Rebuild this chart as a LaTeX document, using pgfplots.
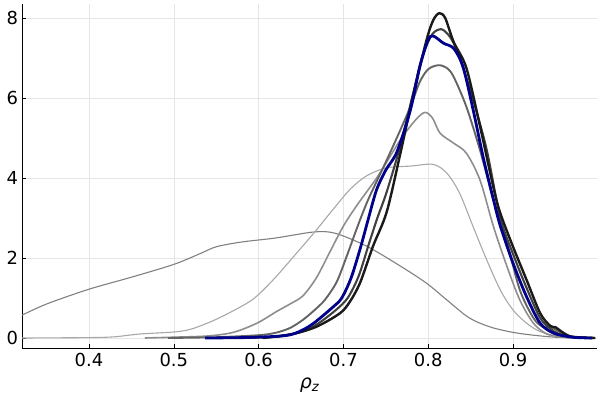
\documentclass[border=0pt]{standalone}
\usepackage{pgfplots}
\pgfplotsset{compat=1.18}
\usepackage{fontspec}
\setmainfont{DejaVu Sans}
\definecolor{cA}{HTML}{808080}
\definecolor{cB}{HTML}{A8A8A8}
\definecolor{cC}{HTML}{8E8E8E}
\definecolor{cD}{HTML}{646464}
\definecolor{cE}{HTML}{404040}
\definecolor{cF}{HTML}{1A1A1A}
\definecolor{cBlue}{HTML}{00008B}
\begin{document}
\begin{tikzpicture}
\useasboundingbox (0,0) rectangle (600bp,400bp);
\begin{axis}[
  at={(22bp,52bp)}, anchor=south west,
  scale only axis, width=575bp, height=344bp,
  xmin=0.321, xmax=0.999, ymin=-0.25, ymax=8.35,
  axis lines*=left,
  axis line style={black, line width=1bp},
  xtick={0.4,0.5,0.6,0.7,0.8,0.9},
  ytick={0,2,4,6,8},
  xticklabels={0.4,0.5,0.6,0.7,0.8,0.9},
  yticklabels={0,2,4,6,8},
  grid=major,
  major grid style={black!10, line width=0.5bp},
  tick style={black, line width=0.6bp},
  major tick length=4bp, tick align=inside,
  /pgf/number format/assume math mode=true,
  ticklabel style={font=\fontsize{18}{18}\selectfont},
  xticklabel style={yshift=-2bp},
  yticklabel style={xshift=-0.5bp},
  xlabel={\textit{ρ\textsubscript{z}}},
  xlabel style={font=\fontsize{19}{19}\selectfont, yshift=-4bp},
  every axis plot/.append style={smooth, tension=0.5, no marks},
  clip=true,
]
% A
\addplot[color=cA, line width=1.1bp] coordinates {
(0.321,0.57) (0.35,0.85) (0.40,1.22) (0.45,1.52) (0.50,1.84) (0.53,2.1) (0.55,2.28) (0.58,2.40) (0.62,2.50) (0.665,2.65) (0.69,2.62) (0.727,2.3) (0.767,1.8) (0.798,1.37) (0.822,0.95) (0.845,0.55) (0.86,0.38) (0.877,0.25) (0.90,0.14) (0.924,0.07) (0.95,0.02) (0.975,0.0)
};
% B
\addplot[color=cB, line width=1.1bp] coordinates {
(0.321,0) (0.40,0.01) (0.43,0.03) (0.46,0.1) (0.50,0.15) (0.52,0.22) (0.545,0.42) (0.57,0.68) (0.594,0.98) (0.617,1.45) (0.641,2.03) (0.665,2.62) (0.688,3.22) (0.708,3.72) (0.727,4.05) (0.75,4.25) (0.78,4.3) (0.806,4.34) (0.822,4.12) (0.837,3.62) (0.853,2.78) (0.869,1.95) (0.885,1.2) (0.90,0.7) (0.916,0.37) (0.932,0.16) (0.955,0.03) (0.98,0)
};
% C
\addplot[color=cC, line width=1.6bp] coordinates {
(0.466,0) (0.50,0.02) (0.54,0.05) (0.57,0.14) (0.598,0.37) (0.621,0.66) (0.637,0.85) (0.652,1.05) (0.668,1.5) (0.684,2.15) (0.70,2.8) (0.716,3.32) (0.729,3.7) (0.743,4.12) (0.767,4.95) (0.785,5.45) (0.796,5.64) (0.805,5.5) (0.814,5.12) (0.83,4.87) (0.845,4.62) (0.861,3.95) (0.877,2.78) (0.893,1.78) (0.908,0.95) (0.924,0.37) (0.94,0.1) (0.96,0.02) (0.98,0)
};
% D
\addplot[color=cD, line width=1.9bp] coordinates {
(0.493,0) (0.55,0.02) (0.60,0.07) (0.62,0.13) (0.637,0.25) (0.652,0.45) (0.665,0.68) (0.678,0.95) (0.692,1.4) (0.704,2.05) (0.716,2.75) (0.729,3.45) (0.75,4.4) (0.765,5.1) (0.779,5.78) (0.79,6.4) (0.80,6.72) (0.812,6.82) (0.822,6.75) (0.830,6.53) (0.845,5.78) (0.861,4.7) (0.877,3.45) (0.893,2.37) (0.908,1.2) (0.924,0.5) (0.935,0.28) (0.946,0.26) (0.955,0.15) (0.97,0.03) (0.99,0)
};
% E
\addplot[color=cE, line width=2.1bp] coordinates {
(0.58,0) (0.62,0.03) (0.65,0.15) (0.668,0.33) (0.69,0.68) (0.705,1.0) (0.718,1.55) (0.73,2.35) (0.74,3.0) (0.751,3.65) (0.767,4.8) (0.782,6.1) (0.794,7.1) (0.805,7.6) (0.815,7.72) (0.823,7.6) (0.830,7.37) (0.838,6.95) (0.853,5.95) (0.869,4.7) (0.885,3.0) (0.900,2.1) (0.916,1.25) (0.932,0.5) (0.946,0.2) (0.96,0.06) (0.98,0.01) (0.995,0)
};
% F
\addplot[color=cF, line width=2.4bp] coordinates {
(0.605,0) (0.64,0.1) (0.668,0.28) (0.696,0.62) (0.708,0.92) (0.72,1.4) (0.735,2.3) (0.751,3.15) (0.767,4.6) (0.782,6.05) (0.798,7.45) (0.806,7.95) (0.813,8.12) (0.82,8.0) (0.830,7.4) (0.845,6.75) (0.861,5.3) (0.877,3.75) (0.885,3.12) (0.90,2.28) (0.916,1.45) (0.932,0.62) (0.944,0.3) (0.95,0.27) (0.96,0.12) (0.97,0.03) (0.997,0)
};
% Blue
\addplot[color=cBlue, line width=2.8bp] coordinates {
(0.537,0) (0.58,0.01) (0.62,0.04) (0.637,0.08) (0.65,0.18) (0.665,0.37) (0.688,0.78) (0.698,1.0) (0.709,1.5) (0.72,2.25) (0.729,2.95) (0.739,3.7) (0.75,4.2) (0.763,4.65) (0.779,5.7) (0.790,6.78) (0.800,7.45) (0.806,7.55) (0.818,7.37) (0.830,7.24) (0.841,6.78) (0.853,5.7) (0.865,4.5) (0.877,3.45) (0.885,2.8) (0.90,1.87) (0.916,1.03) (0.932,0.37) (0.948,0.12) (0.97,0.02) (0.993,0)
};
\end{axis}
\end{tikzpicture}
\end{document}
